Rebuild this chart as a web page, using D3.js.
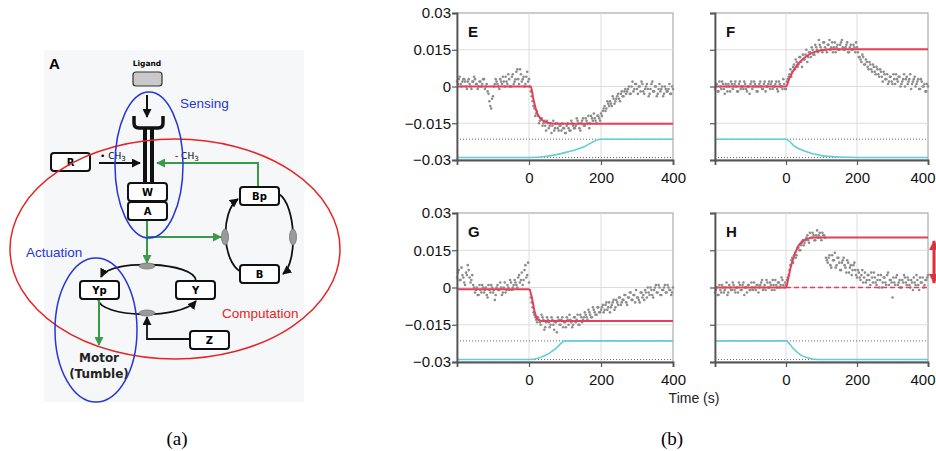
<!DOCTYPE html>
<html>
<head>
<meta charset="utf-8">
<script src="https://cdn.jsdelivr.net/npm/d3@7"></script>
<style>
  body { margin: 0; background: #fff; }
  svg { display: block; }
  text { font-family: "Liberation Sans", Arial, sans-serif; }
</style>
</head>
<body>
<svg id="fig" width="936" height="451"></svg>
<script>
//////////////////////////////////////////////////////////////////
// Data
//////////////////////////////////////////////////////////////////
const timeTicks = [0, 200, 400];
const valueTicks = [0.03, 0.015, 0, -0.015, -0.03];
const valueLabels = ["0.03", "0.015", "0", "\u22120.015", "\u22120.03"];
const gridTimes = [0, 200];
const gridValues = [0.015, 0, -0.015];
const stimLevels = [-0.0215, -0.029];   // dotted reference lines
const panelLabels = ["E", "F", "G", "H"];

// measured points in units of 0.001: first set every 5 s from -200 s,
// second set in between (every 5 s from -197.5 s)
const dotTimes = d3.range(-200, 401, 5);
const dotTimes2 = d3.range(-197.5, 400, 5);

const eDots = [2,3,1,2,3,0,2,1,-1,2,3,1,0,2,1,3,0,-2,-6,-9,-4,1,2,0,3,1,2,4,1,3,0,5,2,6,3,7,2,4,1,6,
  3,-2,-6,-9,-11,-12,-14,-13,-15,-16,-14,-17,-15,-16,-18,-15,-17,-16,-18,-17,-19,-16,-17,-18,-15,-17,-16,-14,-17,-15,-13,-16,-14,-12,-15,-13,-11,-14,-12,-13,-11,
  -10,-8,-9,-7,-6,-8,-5,-6,-4,-5,-3,-4,-2,-3,-1,-3,0,-2,1,-1,0,-2,1,-3,0,-1,-3,1,-2,0,-4,-1,-2,0,-3,-1,-2,1,-3,-1];
const eDots2 = [1,4,0,3,2,-1,3,0,2,4,1,-1,2,0,3,-1,1,-3,-8,-5,0,3,1,-1,2,4,0,2,5,0,4,1,3,7,1,5,3,0,4,2,
  0,-4,-8,-12,-10,-15,-13,-16,-14,-18,-15,-16,-19,-14,-17,-15,-18,-16,-15,-17,-19,-15,-18,-14,-16,-17,-13,-15,-18,-14,-16,-13,-15,-17,-12,-14,-13,-15,-12,-14,
  -12,-9,-10,-6,-8,-7,-4,-7,-5,-3,-6,-2,-4,-1,-2,0,-3,2,-1,1,-3,0,2,-2,-1,1,-4,-1,2,-2,0,-3,1,-1,-4,0,-2,-1,-3,0];

const fDots = [-1,1,-2,0,2,-1,1,-2,0,2,-1,1,0,-2,2,0,-1,1,-2,0,1,-1,2,0,-2,1,0,-1,2,0,1,-1,2,0,1,-1,2,0,-1,1,
  -1,3,5,4,8,7,10,9,12,8,11,13,10,14,12,15,13,16,14,17,15,18,16,14,17,15,18,16,14,17,15,18,16,15,17,14,16,15,17,14,16,
  12,11,13,9,11,8,10,7,9,6,8,5,7,4,6,3,5,2,4,1,3,5,2,4,1,3,0,4,2,5,1,3,0,2,-1,3,0,1,-2,0];
const fDots2 = [0,-2,2,-1,1,-3,0,1,-2,1,0,2,-2,1,-1,0,2,-1,0,-3,2,0,1,-2,0,2,-1,1,-2,0,2,1,-1,0,2,-2,1,0,3,-1,
  2,4,7,6,9,11,8,12,10,13,11,15,12,14,16,13,17,15,19,16,14,18,15,17,19,16,14,18,16,15,17,19,15,16,18,14,17,15,16,18,
  14,12,10,12,9,10,7,9,6,8,5,7,4,6,2,5,3,1,4,2,5,1,3,4,0,2,5,3,1,3,-1,2,4,1,3,-1,2,0,-2,1];

const gDots = [4,7,3,5,2,6,9,4,3,1,-2,0,-3,-1,1,-2,0,-4,-1,1,-2,-5,0,-1,2,-3,0,-2,1,-1,2,0,3,1,4,2,6,3,9,5,
  2,-4,-8,-11,-13,-12,-14,-11,-13,-16,-12,-14,-15,-13,-17,-14,-12,-15,-13,-16,-14,-12,-15,-13,-16,-12,-14,-11,-15,-12,-13,-10,-12,-9,-11,-12,-9,-11,-8,-10,-9,
  -7,-9,-6,-8,-10,-7,-5,-8,-6,-4,-7,-5,-3,-6,-4,-2,-5,-3,-6,-4,-5,-2,-4,-5,-2,0,-3,-1,-4,0,-2,1,-3,-1,0,-2,1,-1,-3,0];
const gDots2 = [6,3,8,4,1,5,7,2,5,0,-1,-3,1,-2,0,-1,-3,1,-2,0,-1,-3,1,-1,0,-2,2,-1,0,3,-1,1,2,0,5,3,1,7,4,10,
  -1,-6,-10,-12,-14,-13,-15,-12,-17,-14,-13,-16,-12,-15,-14,-18,-13,-15,-12,-14,-16,-13,-11,-14,-15,-12,-13,-15,-11,-14,-12,-11,-13,-10,-12,-8,-10,-11,-8,-10,
  -8,-10,-7,-9,-6,-8,-6,-9,-5,-7,-4,-6,-5,-3,-7,-4,-2,-5,-3,-1,-4,-6,-2,-3,-1,-4,-2,0,-3,-1,1,-2,0,-3,-1,1,-2,0,-1,-2];

const hDots = [-2,0,-3,-1,1,-2,0,-3,1,-1,2,-1,0,-2,1,-1,2,0,-2,1,-1,0,2,-1,1,0,2,-1,1,3,0,2,-1,1,3,0,2,1,3,0,
  1,4,7,11,10,14,13,16,15,18,17,19,21,18,20,22,19,21,20,22,19,21,20,11,12,9,13,11,8,12,10,7,11,9,6,10,8,5,9,7,4,
  6,3,7,4,2,5,3,6,2,4,1,5,3,0,4,2,5,1,3,-4,2,4,1,3,0,2,4,1,3,0,2,4,1,3,-1,2,4,1,3,5];
const hDots2 = [-1,-3,1,-2,0,-1,2,-2,0,-1,1,-2,0,2,-1,1,-3,0,1,-1,2,-1,0,1,-2,1,3,0,-1,2,0,1,3,-1,1,2,0,4,1,2,
  3,5,9,12,13,12,16,15,17,19,18,20,19,22,20,21,19,23,21,20,22,21,12,10,13,8,11,14,9,12,7,10,12,8,11,6,9,7,10,5,
  7,4,5,2,6,3,5,1,4,6,2,3,0,5,2,4,1,6,3,2,4,1,5,2,0,3,5,2,4,1,3,-1,2,5,1,4,2,0,3,4];

// fitted model curves [time, value]
const eFit = [[-200,0],[5,0],[12,-0.005],[22,-0.0106],[32,-0.013],[45,-0.0145],[70,-0.0152],[400,-0.0152]];
const fFit = [[-200,0],[0,0],[10,0.0035],[25,0.0075],[50,0.0115],[75,0.0138],[100,0.0148],[130,0.0152],[400,0.0152]];
const gFit = [[-200,-0.0007],[0,-0.0007],[8,-0.004],[16,-0.010],[24,-0.0128],[35,-0.0135],[400,-0.0135]];
const hFit = [[-200,0],[0,0],[7,0.004],[13,0.008],[25,0.0134],[36,0.017],[57,0.0195],[80,0.0201],[400,0.0201]];
const hBase = [[0,0],[400,0]];

// stimulus traces (cyan) [time, value]
const eStim = [[-200,-0.029],[0,-0.029],[50,-0.0285],[100,-0.027],[150,-0.0248],[200,-0.0215],[400,-0.0215]];
const fStim = [[-200,-0.0215],[0,-0.0215],[25,-0.0245],[50,-0.0262],[100,-0.0282],[150,-0.0288],[200,-0.029],[400,-0.029]];
const gStim = [[-200,-0.029],[0,-0.029],[25,-0.0285],[50,-0.027],[75,-0.0245],[100,-0.0215],[400,-0.0215]];
const hStim = [[-200,-0.0215],[0,-0.0215],[20,-0.0245],[40,-0.027],[60,-0.0283],[90,-0.029],[400,-0.029]];

//////////////////////////////////////////////////////////////////
// Figure
//////////////////////////////////////////////////////////////////
const svg = d3.select("#fig");
const defs = svg.append("defs");

function addMarker(id, color, size) {
  defs.append("marker")
    .attr("id", id)
    .attr("viewBox", "0 0 10 10")
    .attr("refX", 9).attr("refY", 5)
    .attr("markerUnits", "userSpaceOnUse")
    .attr("markerWidth", size).attr("markerHeight", size)
    .attr("orient", "auto-start-reverse")
    .append("path")
    .attr("d", "M0,0 L10,5 L0,10 z")
    .attr("fill", color);
}
addMarker("ahBlack", "#111", 9);
addMarker("ahGreen", "#3a9a4a", 9);
addMarker("ahRed", "#e0303a", 10);

//////////////////////////////////////////////////////////////////
// (a) network diagram
//////////////////////////////////////////////////////////////////
const diag = svg.append("g");
const green = "#3a9a4a";
const blue = "#2536d8";
const red = "#e52525";

diag.append("rect").attr("x", 44).attr("y", 50).attr("width", 260).attr("height", 352)
  .attr("fill", "#f6f7f9");

diag.append("text").attr("x", 49).attr("y", 69).text("A")
  .style("font-size", "15px").style("font-weight", "bold");

// ligand
diag.append("text").attr("x", 147).attr("y", 66).attr("text-anchor", "middle").text("Ligand")
  .style("font-family", "'DejaVu Sans', sans-serif").style("font-size", "7.5px").style("font-weight", "bold");
diag.append("rect").attr("x", 133).attr("y", 72).attr("width", 29).attr("height", 14).attr("rx", 3)
  .attr("fill", "#c9c9c9").attr("stroke", "#333").attr("stroke-width", 1.2);
diag.append("line").attr("x1", 147).attr("y1", 95).attr("x2", 147).attr("y2", 117)
  .attr("stroke", "#111").attr("stroke-width", 2).attr("marker-end", "url(#ahBlack)");

// receptor
diag.append("path").attr("d", "M134,116 L134,123 Q134,128 139,128 L158,128 Q163,128 163,123 L163,116")
  .attr("fill", "none").attr("stroke", "#111").attr("stroke-width", 3.5);
[143, 150].forEach(x => diag.append("rect").attr("x", x).attr("y", 127).attr("width", 4).attr("height", 57).attr("fill", "#111"));

// boxes
const boxNames = ["R", "W", "A", "Bp", "B", "Yp", "Y", "Z"];
const boxAt = { R: [51, 153], W: [128, 183], A: [128, 202], Bp: [240, 187], B: [240, 265], Yp: [80, 281], Y: [176, 281], Z: [190, 331] };
const boxW = 39, boxH = 18;

// methylation arrows
diag.append("line").attr("x1", 99).attr("y1", 163).attr("x2", 140).attr("y2", 163)
  .attr("stroke", "#111").attr("stroke-width", 2).attr("marker-end", "url(#ahBlack)");
diag.append("path").attr("d", "M258,187 L258,163 L157,163")
  .attr("fill", "none").attr("stroke", green).attr("stroke-width", 2).attr("marker-end", "url(#ahGreen)");
diag.append("text").attr("x", 100).attr("y", 159).text("\u2022 CH")
  .style("font-family", "'DejaVu Sans', sans-serif").style("font-size", "9px")
  .append("tspan").attr("dy", 2).style("font-size", "7px").text("3");
diag.append("text").attr("x", 175).attr("y", 159).text("- CH")
  .style("font-family", "'DejaVu Sans', sans-serif").style("font-size", "9px")
  .append("tspan").attr("dy", 2).style("font-size", "7px").text("3");

// green outputs from A
diag.append("line").attr("x1", 147).attr("y1", 221).attr("x2", 147).attr("y2", 263)
  .attr("stroke", green).attr("stroke-width", 2).attr("marker-end", "url(#ahGreen)");
diag.append("line").attr("x1", 147).attr("y1", 237).attr("x2", 221).attr("y2", 237)
  .attr("stroke", green).attr("stroke-width", 2).attr("marker-end", "url(#ahGreen)");

// B / Bp cycle
diag.append("path").attr("d", "M241,272 C222,262 220,212 238,199")
  .attr("fill", "none").attr("stroke", "#111").attr("stroke-width", 1.8).attr("marker-end", "url(#ahBlack)");
diag.append("path").attr("d", "M279,194 C296,205 298,262 283,274")
  .attr("fill", "none").attr("stroke", "#111").attr("stroke-width", 1.8).attr("marker-end", "url(#ahBlack)");

// Y / Yp cycle
diag.append("path").attr("d", "M196,281 C196,262 110,258 101,277")
  .attr("fill", "none").attr("stroke", "#111").attr("stroke-width", 1.8).attr("marker-end", "url(#ahBlack)");
diag.append("path").attr("d", "M98,299 C100,318 180,320 196,301")
  .attr("fill", "none").attr("stroke", "#111").attr("stroke-width", 1.8).attr("marker-end", "url(#ahBlack)");
diag.append("path").attr("d", "M190,339 L147,339 L147,317")
  .attr("fill", "none").attr("stroke", "#111").attr("stroke-width", 1.8).attr("marker-end", "url(#ahBlack)");

// enzyme ovals
[[225, 237, 3.5, 8], [293, 237, 3.5, 8], [147, 266, 8, 3], [147, 313, 8, 3]].forEach(([cx, cy, rx, ry]) =>
  diag.append("ellipse").attr("cx", cx).attr("cy", cy).attr("rx", rx).attr("ry", ry)
    .attr("fill", "#9a9a9a").attr("stroke", "#777").attr("stroke-width", 0.8));

// Yp -> motor
diag.append("line").attr("x1", 99).attr("y1", 300).attr("x2", 99).attr("y2", 345)
  .attr("stroke", green).attr("stroke-width", 2).attr("marker-end", "url(#ahGreen)");

boxNames.forEach(n => {
  const [x, y] = boxAt[n];
  diag.append("rect").attr("x", x).attr("y", y).attr("width", boxW).attr("height", boxH).attr("rx", 3)
    .attr("fill", "#fff").attr("stroke", "#111").attr("stroke-width", 2);
  diag.append("text").attr("x", x + boxW / 2).attr("y", y + 13).attr("text-anchor", "middle").text(n)
    .style("font-family", "'DejaVu Sans', sans-serif").style("font-size", "10px").style("font-weight", "bold");
});

["Motor", "(Tumble)"].forEach((t, i) =>
  diag.append("text").attr("x", 99).attr("y", 362 + i * 16).attr("text-anchor", "middle").text(t)
    .style("font-family", "'DejaVu Sans', sans-serif").style("font-size", "12px").style("font-weight", "bold")
    .style("fill", "#222"));

// module outlines
diag.append("ellipse").attr("cx", 175).attr("cy", 249).attr("rx", 165).attr("ry", 110)
  .attr("fill", "none").attr("stroke", red).attr("stroke-width", 1.5);
diag.append("ellipse").attr("cx", 149).attr("cy", 165).attr("rx", 34).attr("ry", 73)
  .attr("fill", "none").attr("stroke", blue).attr("stroke-width", 1.5);
diag.append("ellipse").attr("cx", 96).attr("cy", 330).attr("rx", 41).attr("ry", 72)
  .attr("fill", "none").attr("stroke", blue).attr("stroke-width", 1.5);

diag.append("text").attr("x", 180).attr("y", 108).text("Sensing").style("font-size", "13.5px").style("fill", blue);
diag.append("text").attr("x", 26).attr("y", 257).text("Actuation").style("font-size", "13.5px").style("fill", blue);
diag.append("text").attr("x", 222).attr("y", 318).text("Computation").style("font-size", "13.5px").style("fill", red);

//////////////////////////////////////////////////////////////////
// (b) four response panels
//////////////////////////////////////////////////////////////////
const panelData = [
  { dots: eDots, dots2: eDots2, fit: eFit, stim: eStim, base: null },
  { dots: fDots, dots2: fDots2, fit: fFit, stim: fStim, base: null },
  { dots: gDots, dots2: gDots2, fit: gFit, stim: gStim, base: null },
  { dots: hDots, dots2: hDots2, fit: hFit, stim: hStim, base: hBase }
];
const panelBox = [
  { x0: 457, x1: 673, y0: 13, y1: 160, labels: true },
  { x0: 715, x1: 928, y0: 13, y1: 160, labels: false },
  { x0: 457, x1: 673, y0: 213, y1: 362, labels: true },
  { x0: 715, x1: 928, y0: 213, y1: 362, labels: false }
];

panelData.forEach((p, i) => {
  const b = panelBox[i];
  const x = d3.scaleLinear().domain([-200, 400]).range([b.x0, b.x1]);
  const y = d3.scaleLinear().domain([-0.03, 0.03]).range([b.y1, b.y0]);
  const g = svg.append("g");

  g.append("rect").attr("x", b.x0).attr("y", b.y0).attr("width", b.x1 - b.x0).attr("height", b.y1 - b.y0)
    .attr("fill", "#fff").attr("stroke", "#9a9a9a").attr("stroke-width", 1);

  g.selectAll(".gx").data(gridTimes).enter().append("line")
    .attr("x1", d => x(d)).attr("x2", d => x(d)).attr("y1", b.y0).attr("y2", b.y1)
    .attr("stroke", "#dcdcdc").attr("stroke-width", 1);
  g.selectAll(".gy").data(gridValues).enter().append("line")
    .attr("x1", b.x0).attr("x2", b.x1).attr("y1", d => y(d)).attr("y2", d => y(d))
    .attr("stroke", "#dcdcdc").attr("stroke-width", 1);

  g.selectAll(".lvl").data(stimLevels).enter().append("line")
    .attr("x1", b.x0).attr("x2", b.x1).attr("y1", d => y(d)).attr("y2", d => y(d))
    .attr("stroke", "#6a6a6a").attr("stroke-width", 1).attr("stroke-dasharray", "1,2");

  const line = d3.line().x(d => x(d[0])).y(d => y(d[1])).curve(d3.curveMonotoneX);

  g.append("path").datum(p.stim).attr("d", line)
    .attr("fill", "none").attr("stroke", "#62cdd6").attr("stroke-width", 1.6);

  g.selectAll(".dot").data(p.dots).enter().append("circle")
    .attr("cx", (d, k) => x(dotTimes[k])).attr("cy", d => y(d / 1000)).attr("r", 1.3)
    .attr("fill", "#8c8c8c");
  g.selectAll(".dot2").data(p.dots2).enter().append("circle")
    .attr("cx", (d, k) => x(dotTimes2[k])).attr("cy", d => y(d / 1000)).attr("r", 1.3)
    .attr("fill", "#8c8c8c");

  if (p.base) {
    g.append("path").datum(p.base).attr("d", line)
      .attr("fill", "none").attr("stroke", "#e4405a").attr("stroke-width", 1.6).attr("stroke-dasharray", "5,3");
  }
  g.append("path").datum(p.fit).attr("d", line)
    .attr("fill", "none").attr("stroke", "#e4405a").attr("stroke-width", 2);

  const yAxis = d3.axisLeft(y).tickValues(valueTicks).tickSize(5).tickPadding(1)
    .tickFormat(b.labels ? (d, k) => valueLabels[k] : "");
  const ya = g.append("g").attr("transform", `translate(${b.x0},0)`).call(yAxis);
  const xa = g.append("g").attr("transform", `translate(0,${b.y1})`)
    .call(d3.axisBottom(x).tickValues(timeTicks).tickSize(5).tickPadding(7.4));
  [ya, xa].forEach(a => {
    a.select(".domain").attr("stroke", "#555").attr("stroke-width", 1.8);
    a.selectAll(".tick line").attr("stroke", "#555").attr("stroke-width", 1.2);
    a.selectAll(".tick text").style("font-size", "15px").style("font-family", "'Liberation Sans', Arial, sans-serif").attr("fill", "#111");
  });
  // keep the last time label inside the page on the right-hand panels
  if (!b.labels) {
    xa.selectAll(".tick text").filter(d => d === 400).attr("text-anchor", "end").attr("x", 7);
  }

  g.append("text").attr("x", b.x0 + 11).attr("y", b.y0 + 24).text(panelLabels[i])
    .style("font-size", "15px").style("font-weight", "bold").style("fill", "#111");
});

// red double arrow at the right edge of H
svg.append("line").attr("x1", 934).attr("y1", 241).attr("x2", 934).attr("y2", 283)
  .attr("stroke", "#e0303a").attr("stroke-width", 3)
  .attr("marker-start", "url(#ahRed)").attr("marker-end", "url(#ahRed)");

svg.append("text").attr("x", 694).attr("y", 403).attr("text-anchor", "middle").text("Time (s)")
  .style("font-size", "14px").style("fill", "#222");

// sub-figure captions
[["(a)", 177], ["(b)", 672]].forEach(([t, cx]) =>
  svg.append("text").attr("x", cx).attr("y", 445).attr("text-anchor", "middle").text(t)
    .style("font-family", "'Liberation Serif', 'Times New Roman', serif").style("font-size", "19px"));
</script>
</body>
</html>
